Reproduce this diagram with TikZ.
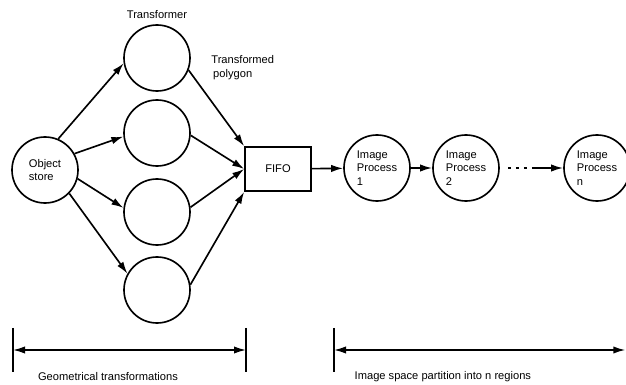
\documentclass[tikz,border=0pt]{standalone}
\usepackage{fontspec}
\setmainfont{Liberation Sans}
\usepackage{tikz}
\usetikzlibrary{arrows.meta,shapes,positioning}
\tikzset{>={Latex[width=2.2mm,length=3.6mm]}}
\tikzset{proc/.style={shape=circle, draw, fill=white, align=left,
    inner sep=.5mm, minimum size=1.98cm}}
\tikzset{buffer/.style={shape=rectangle, draw, fill=white,
    minimum width=1.98cm, minimum height=1.32cm}}
\tikzset{every node/.style={font=\fontsize{9.5}{11.8}\selectfont}}

\begin{document}
\begin{tikzpicture}[line width=1.4pt, align=left]
    \useasboundingbox (0,0) rectangle (18.78,-11.55);

    \node(store)[proc] at (1.35,-5.10)                                      {Object\\store};
    \node(t1)[proc] [label={[label distance=1pt]above:{Transformer}}] at (4.71,-1.74) {};
    \node(t2)[proc] at (4.71,-3.99)                                         {};
    \node(t3)[proc] at (4.71,-6.36)                                         {};
    \node(t4)[proc] at (4.71,-8.70)                                         {};

    \node(fifo)[buffer] at (8.34,-5.07)                                     {FIFO};

    \node(p1)[proc] at (11.31,-5.04)                                        {Image\\Process\\1};
    \node(p2)[proc] at (13.98,-5.04)                                        {Image\\Process\\2};
    \node(pn)[proc] at (17.91,-5.04)                                        {Image\\Process\\n};

    \node(poly) [anchor=west] at (6.2,-2.03)                                {Transformed\\\,polygon};

    \coordinate (dots1) at (15.24,-5.04);
    \coordinate (dots2) at (15.98,-5.04);

    % bottom brackets
    \coordinate (g1) at (0.39,-10.5);
    \coordinate (g2) at (7.38,-10.5);
    \coordinate (i1) at (10.02,-10.5);
    \coordinate (i2) at (18.76,-10.5);
    \coordinate (g1t) at (0.39,-9.84);   \coordinate (g1b) at (0.39,-11.16);
    \coordinate (g2t) at (7.38,-9.84);   \coordinate (g2b) at (7.38,-11.16);
    \coordinate (i1t) at (10.02,-9.84);  \coordinate (i1b) at (10.02,-11.16);
    \node(geo) [anchor=west] at (1.0,-11.31)                                {Geometrical transformations};
    \node(img) [anchor=west] at (10.5,-11.31)                               {Image space partition into n regions};

    \draw [->][draw=black] (store.67) to (t1.189);
    \draw [->][draw=black] (store.29) to (t2.186);
    \draw [->][draw=black] (store.-15) to (t3.173);
    \draw [->][draw=black] (store.-44) to (t4.151);

    \draw [->][draw=black] (t1.-21) to (fifo.north west);
    \draw [->][draw=black] (t2.-4) to (fifo.west);
    \draw [->][draw=black] (t3.8) to (fifo.west);
    \draw [->][draw=black] (t4.9) to (fifo.south west);

    \draw [->][draw=black] (fifo) to (p1);
    \draw [->][draw=black] (p1) to (p2);
    \draw [draw=black, line width=2.2pt, dash pattern=on 2.4pt off 4.4pt] (dots1) to (dots2);
    \draw [->][draw=black] (dots2) to (pn);

    \draw [draw=black] (g1t) to (g1b);
    \draw [draw=black] (g2t) to (g2b);
    \draw [draw=black] (i1t) to (i1b);
    \draw [<->][draw=black] (g1) to (g2);
    \draw [<->][draw=black] (i1) to (i2);

\end{tikzpicture}
\end{document}
